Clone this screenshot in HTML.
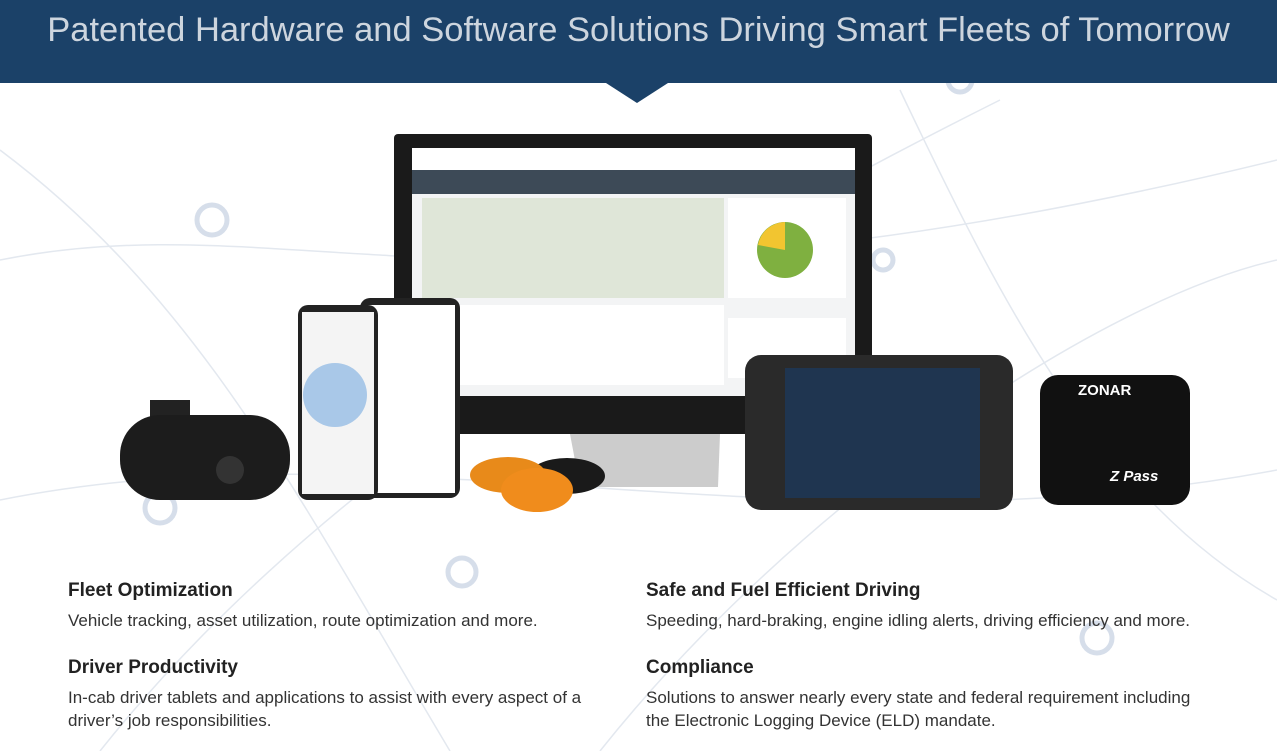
<!DOCTYPE html>
<html><head><style>
*{margin:0;padding:0;box-sizing:border-box}
body{width:1277px;height:751px;position:relative;overflow:hidden;background:#fff;font-family:"Liberation Sans",sans-serif}
.a{position:absolute}
h2{position:absolute;font-size:19px;font-weight:bold;color:#222}
p{position:absolute;font-size:17px;color:#333;line-height:23px}
</style></head><body>
<svg class="a" style="left:0;top:0" width="1277" height="751">
<g fill="none" stroke="#e3e8ef" stroke-width="1.5">
<path d="M0,260 C300,200 500,350 1277,160"/>
<path d="M0,500 C400,420 800,560 1277,470"/>
<path d="M100,751 C300,500 600,300 1000,100"/>
<path d="M600,751 C800,500 1100,300 1277,260"/>
<path d="M0,150 C200,300 300,500 450,751"/>
<path d="M900,90 C1000,300 1100,500 1277,600"/>
</g>
<g fill="none" stroke="#d6deea" stroke-width="5">
<circle cx="212" cy="220" r="15"/><circle cx="160" cy="508" r="15"/><circle cx="462" cy="572" r="14"/>
<circle cx="1097" cy="638" r="15"/><circle cx="960" cy="80" r="12"/><circle cx="883" cy="260" r="10"/>
</g>
<rect x="0" y="0" width="1277" height="83" fill="#1b4168"/>
<polygon points="606,83 668,83 637,103" fill="#1b4168"/>
<rect x="394" y="134" width="478" height="300" rx="4" fill="#1a1a1a"/>
<rect x="412" y="148" width="443" height="248" fill="#f3f4f5"/>
<rect x="412" y="148" width="443" height="22" fill="#fff"/>
<rect x="412" y="170" width="443" height="24" fill="#3d4a57"/>
<rect x="422" y="198" width="302" height="100" fill="#dfe6d8"/>
<rect x="422" y="305" width="302" height="80" fill="#fff"/>
<rect x="728" y="198" width="118" height="100" fill="#fff"/>
<circle cx="785" cy="250" r="28" fill="#7fb040"/>
<path d="M785,250 L785,222 A28,28 0 0,0 758,245 Z" fill="#f2c530"/>
<rect x="728" y="318" width="118" height="60" fill="#fff"/>
<polygon points="570,434 720,434 718,487 580,487" fill="#ccc"/>
<rect x="150" y="400" width="40" height="20" fill="#222"/>
<rect x="120" y="415" width="170" height="85" rx="40" fill="#1c1c1c"/>
<circle cx="230" cy="470" r="14" fill="#333"/>
<rect x="360" y="298" width="100" height="200" rx="10" fill="#222"/>
<rect x="365" y="305" width="90" height="188" fill="#fff"/>
<rect x="298" y="305" width="80" height="195" rx="10" fill="#222"/>
<rect x="302" y="312" width="72" height="182" fill="#f4f4f4"/>
<circle cx="335" cy="395" r="32" fill="#a9c8e8"/>
<ellipse cx="567" cy="476" rx="38" ry="18" fill="#1a1a1a"/>
<ellipse cx="508" cy="475" rx="38" ry="18" fill="#e88a1a"/>
<ellipse cx="537" cy="490" rx="36" ry="22" fill="#f08c1c"/>
<rect x="745" y="355" width="268" height="155" rx="16" fill="#2a2a2a"/>
<rect x="785" y="368" width="195" height="130" fill="#1f3550"/>
<rect x="1040" y="375" width="150" height="130" rx="18" fill="#111"/>
</svg>
<div class="a" style="left:0;top:11px;width:1277px;text-align:center;color:#cdd5de;font-size:34.5px">Patented Hardware and Software Solutions Driving Smart Fleets of Tomorrow</div>
<div class="a" style="left:1078px;top:382px;color:#fff;font-weight:bold;font-size:15px">ZONAR</div>
<div class="a" style="left:1110px;top:468px;color:#fff;font-weight:bold;font-style:italic;font-size:15px">Z Pass</div>
<h2 style="left:68px;top:580px">Fleet Optimization</h2>
<p style="left:68px;top:609px">Vehicle tracking, asset utilization, route optimization and more.</p>
<h2 style="left:68px;top:657px">Driver Productivity</h2>
<p style="left:68px;top:686px">In-cab driver tablets and applications to assist with every aspect of a<br>driver’s job responsibilities.</p>
<h2 style="left:646px;top:580px">Safe and Fuel Efficient Driving</h2>
<p style="left:646px;top:609px">Speeding, hard-braking, engine idling alerts, driving efficiency and more.</p>
<h2 style="left:646px;top:657px">Compliance</h2>
<p style="left:646px;top:686px">Solutions to answer nearly every state and federal requirement including<br>the Electronic Logging Device (ELD) mandate.</p>
</body></html>
